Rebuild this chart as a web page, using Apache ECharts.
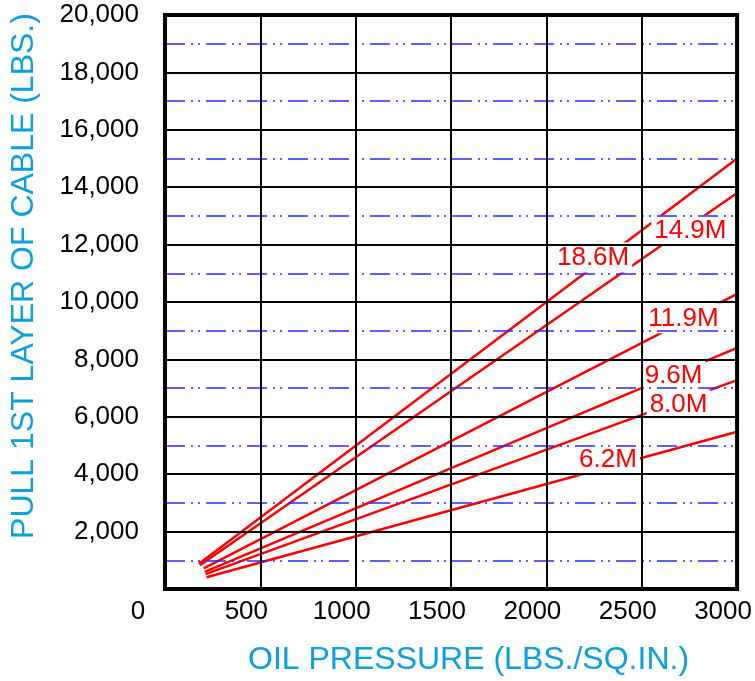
<!DOCTYPE html>
<html>
<head>
<meta charset="utf-8">
<script src="https://cdn.jsdelivr.net/npm/echarts@6/dist/echarts.min.js"></script>
<style>html,body{margin:0;padding:0;background:#fff}#c{width:755px;height:681px}</style>
</head>
<body>
<div id="c"></div>
<script>
// Cable pull lines: [oil pressure, pull] start and end points
const lineNames = ['18.6M', '14.9M', '11.9M', '9.6M', '8.0M', '6.2M'];
const lineStart = [[178, 880], [183, 830], [203, 720], [208, 600], [213, 520], [218, 410]];
const lineEnd = [[3000, 15000], [3000, 13800], [3000, 10280], [3000, 8400], [3000, 7280], [3000, 5480]];
// label anchor (data coords) for each line
const labelAt = [[2245, 11550], [2755, 12490], [2719, 9430], [2667, 7440], [2693, 6430], [2323, 4490]];
const xTicks = [0, 500, 1000, 1500, 2000, 2500, 3000];
const yTicks = [2000, 4000, 6000, 8000, 10000, 12000, 14000, 16000, 18000, 20000];

const FONT = 'Liberation Sans, Arial, sans-serif';
const TITLE_COLOR = '#0aa0dc';

const chart = echarts.init(document.getElementById('c'), null, {renderer: 'canvas'});
const series = lineNames.map((n, i) => ({
  name: n,
  type: 'line',
  z: 2,
  data: [lineStart[i], lineEnd[i]],
  symbol: 'none',
  lineStyle: {color: '#ff0000', width: 2.5},
  markPoint: {
    z: 3,
    symbol: 'circle',
    symbolSize: 0,
    silent: true,
    data: [{
      coord: labelAt[i],
      label: {
        show: true,
        position: 'inside',
        formatter: n,
        color: '#ff0000',
        fontSize: 26,
        fontFamily: FONT,
        backgroundColor: '#ffffff',
        padding: [3, 3, 1, 3]
      }
    }]
  }
}));

chart.setOption({
  animation: false,
  grid: {left: 162, right: 17, top: 15, bottom: 91, show: true, borderColor: '#000', borderWidth: 4, backgroundColor: 'transparent', z: 5},
  xAxis: {
    type: 'value', min: xTicks[0], max: xTicks[xTicks.length - 1], interval: 500, z: 4,
    name: 'OIL PRESSURE (LBS./SQ.IN.)', nameLocation: 'middle', nameGap: 55,
    nameTextStyle: {color: TITLE_COLOR, fontSize: 32, fontFamily: FONT, padding: [0, 0, 0, 35]},
    axisLine: {show: true, lineStyle: {color: '#000', width: 4}},
    axisTick: {show: false},
    axisLabel: {
      margin: 10,
      formatter: v => v === 0 ? '{z|0}' : '{n|' + v + '}',
      rich: {
        z: {fontSize: 26, fontFamily: FONT, color: '#000', padding: [0, 54, 0, 0]},
        n: {fontSize: 26, fontFamily: FONT, color: '#000', padding: [0, 28, 0, 0]}
      }
    },
    splitLine: {show: true, lineStyle: {color: '#000', width: 2}}
  },
  yAxis: {
    type: 'value', min: 0, max: yTicks[yTicks.length - 1], interval: 2000, z: 4,
    name: 'PULL 1ST LAYER OF CABLE (LBS.)', nameLocation: 'middle', nameGap: 125,
    nameTextStyle: {color: TITLE_COLOR, fontSize: 32, fontFamily: FONT, padding: [0, 0, 0, 52]},
    axisLine: {show: true, lineStyle: {color: '#000', width: 4}},
    axisTick: {show: false},
    axisLabel: {
      margin: 26, fontSize: 26, fontFamily: FONT, color: '#000',
      formatter: v => v === 0 ? '' : v.toLocaleString('en-US')
    },
    splitLine: {show: true, lineStyle: {color: '#000', width: 2}},
    minorTick: {show: false, splitNumber: 2},
    minorSplitLine: {show: true, lineStyle: {color: '#2a2aff', width: 1.5, type: [20, 6, 2, 5, 2, 6]}}
  },
  series: series
});
</script>
</body>
</html>
